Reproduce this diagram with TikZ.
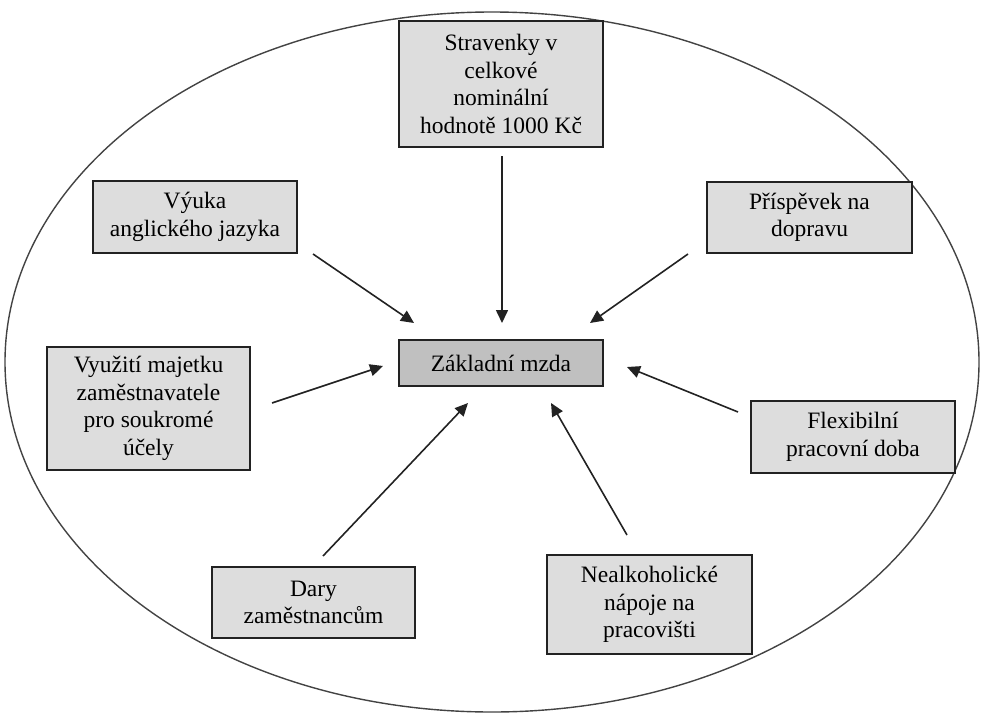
\documentclass[tikz,border=0pt]{standalone}
\usepackage{fontspec}
\setmainfont{Liberation Serif}
\usetikzlibrary{arrows.meta}
\definecolor{boxfill}{HTML}{DDDDDD}
\definecolor{centerfill}{HTML}{C0C0C0}
\definecolor{edge}{HTML}{222222}
\begin{document}
\begin{tikzpicture}[x=1pt,y=-1pt,
  item/.style={draw=edge,line width=1.5pt,fill=boxfill,align=center,inner sep=0pt,
    font=\fontsize{23.5}{27.5}\selectfont},
  arr/.style={draw=edge,line width=1.6pt,-{Triangle[length=13pt,width=12pt]}},
  ring/.style={draw=edge!85,line width=1.4pt}]
\useasboundingbox (0,0) rectangle (984,717);
\draw[ring] (492,362) ellipse [x radius=487, y radius=350];

\node[item,minimum width=204,minimum height=126] (stra) at (501,84) {Stravenky v\\celkové\\nominální\\hodnotě 1000 Kč};
\node[item,minimum width=204,minimum height=72] (vyuka) at (195,217) {Výuka\\anglického jazyka};
\node[item,minimum width=205,minimum height=71] (prisp) at (809.5,217.5) {Příspěvek na\\dopravu};
\node[item,fill=centerfill,minimum width=204,minimum height=46] (zakl) at (501,363) {Základní mzda};
\node[item,minimum width=203,minimum height=123] (vyuz) at (148.5,408.5) {Využití majetku\\zaměstnavatele\\pro soukromé\\účely};
\node[item,minimum width=204,minimum height=72] (flex) at (853,437) {Flexibilní\\pracovní doba};
\node[item,minimum width=203,minimum height=71] (dary) at (313.5,602.5) {Dary\\zaměstnancům};
\node[item,minimum width=205,minimum height=99] (nealko) at (649.5,604.5) {Nealkoholické\\nápoje na\\pracovišti};

\coordinate (s1) at (502,156);  \coordinate (e1) at (502,323);
\coordinate (s2) at (313,254);  \coordinate (e2) at (414,323);
\coordinate (s3) at (688,254);  \coordinate (e3) at (590,323);
\coordinate (s4) at (272,403);  \coordinate (e4) at (383,366);
\coordinate (s5) at (738,412);  \coordinate (e5) at (627,367);
\coordinate (s6) at (323,556);  \coordinate (e6) at (468,403);
\coordinate (s7) at (627,535);  \coordinate (e7) at (551,403);

\draw[arr] (s1) -- (e1);
\draw[arr] (s2) -- (e2);
\draw[arr] (s3) -- (e3);
\draw[arr] (s4) -- (e4);
\draw[arr] (s5) -- (e5);
\draw[arr] (s6) -- (e6);
\draw[arr] (s7) -- (e7);
\end{tikzpicture}
\end{document}
